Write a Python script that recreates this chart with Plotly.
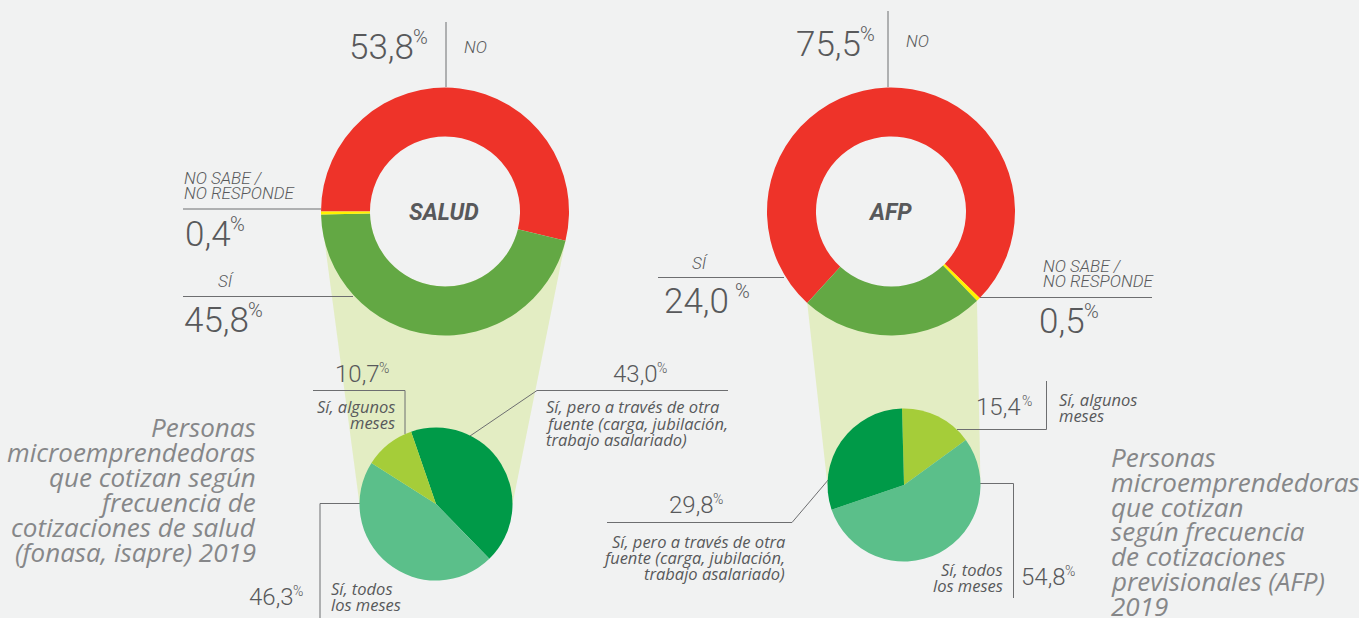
import numpy as np
import plotly.graph_objects as go

# ---------------- data ----------------
donut_labels = ["NO", "SÍ", "NO SABE / NO RESPONDE"]
salud_values = [53.8, 45.8, 0.4]      # NO, SÍ, NS/NR
afp_values = [75.5, 24.0, 0.5]        # NO, SÍ, NS/NR

freq_labels = ["Sí, pero a través de otra fuente (carga, jubilación, trabajo asalariado)",
               "Sí, todos los meses", "Sí, algunos meses"]
salud_freq_values = [43.0, 46.3, 10.7]   # otra fuente, todos, algunos
afp_freq_values = [29.8, 54.8, 15.4]     # otra fuente, todos, algunos

salud_title = ["Personas", "microemprendedoras", "que cotizan según", "frecuencia de",
               "cotizaciones de salud", "(fonasa, isapre) 2019"]
afp_title = ["Personas", "microemprendedoras", "que cotizan", "según frecuencia",
             "de cotizaciones", "previsionales (AFP)", "2019"]

# ---------------- style ----------------
W, H = 1359, 618
BG = "#f1f2f2"
RED, GREEN, YELLOW = "#ee3329", "#63a844", "#fff200"
DARK, MED, LIGHT = "#009a48", "#5bbf8a", "#a5cd39"
TRAP = "#e3edc3"
TXT = "#58595b"
TITLE = "#868789"
LINE = "#6d6e70"
NUMFONT = "Roboto"
LBLFONT = "Open Sans"


def fmt(v):
    return f"{v:.1f}".replace(".", ",")


def dom(cx, cy, r):
    return dict(x=[(cx - r) / W, (cx + r) / W], y=[1 - (cy + r) / H, 1 - (cy - r) / H])


def on_circle(cx, cy, r, ang):
    a = np.deg2rad(ang)
    return cx + r * np.sin(a), cy - r * np.cos(a)


fig = go.Figure()

# big donuts
S_C, A_C, R_BIG, HOLE = (445, 211.5), (891, 211.5), 124, 0.605
s_rot, a_rot = 270, 222.5
fig.add_trace(go.Pie(values=[salud_values[0], salud_values[1], salud_values[2]],
                     labels=donut_labels, sort=False, direction="clockwise", rotation=s_rot,
                     hole=HOLE, marker=dict(colors=[RED, GREEN, YELLOW]),
                     textinfo="none", hoverinfo="label+value", domain=dom(*S_C, R_BIG),
                     showlegend=False))
fig.add_trace(go.Pie(values=[afp_values[0], afp_values[2], afp_values[1]],
                     labels=[donut_labels[0], donut_labels[2], donut_labels[1]], sort=False,
                     direction="clockwise", rotation=a_rot,
                     hole=HOLE, marker=dict(colors=[RED, YELLOW, GREEN]),
                     textinfo="none", hoverinfo="label+value", domain=dom(*A_C, R_BIG),
                     showlegend=False))

# small pies
SP_C, AP_C, R_SM = (436, 504), (904, 485), 76.5
fig.add_trace(go.Pie(values=salud_freq_values, labels=freq_labels, sort=False,
                     direction="clockwise", rotation=-19,
                     marker=dict(colors=[DARK, MED, LIGHT]), textinfo="none",
                     hoverinfo="label+value", domain=dom(*SP_C, R_SM), showlegend=False))
fig.add_trace(go.Pie(values=[afp_freq_values[2], afp_freq_values[1], afp_freq_values[0]],
                     labels=[freq_labels[2], freq_labels[1], freq_labels[0]], sort=False,
                     direction="clockwise", rotation=-1.5,
                     marker=dict(colors=[LIGHT, MED, DARK]), textinfo="none",
                     hoverinfo="label+value", domain=dom(*AP_C, R_SM), showlegend=False))

shapes = []
# connectors (trapezoids) from the SÍ segment to the small pie
s_g0 = s_rot + salud_values[0] * 3.6
s_g1 = s_g0 + salud_values[1] * 3.6
p1 = on_circle(*S_C, R_BIG, s_g1)
p2 = on_circle(*S_C, R_BIG, s_g0)
shapes.append(dict(type="path", layer="below", line=dict(width=0), fillcolor=TRAP,
                   path=f"M{p1[0]},{p1[1]} L{p2[0]},{p2[1]} L{SP_C[0]+R_SM},{SP_C[1]} "
                        f"L{SP_C[0]-R_SM},{SP_C[1]} Z"))
a_g0 = a_rot + (afp_values[0] + afp_values[2]) * 3.6
a_g1 = a_g0 + afp_values[1] * 3.6
q1 = on_circle(*A_C, R_BIG, a_g1)
q2 = on_circle(*A_C, R_BIG, a_g0)
shapes.append(dict(type="path", layer="below", line=dict(width=0), fillcolor=TRAP,
                   path=f"M{q1[0]},{q1[1]} L{q2[0]},{q2[1]} L{AP_C[0]+R_SM},{AP_C[1]} "
                        f"L{AP_C[0]-R_SM},{AP_C[1]} Z"))
# keep donut holes clean
for c in (S_C, A_C):
    rh = R_BIG * HOLE
    shapes.append(dict(type="circle", layer="below", line=dict(width=0), fillcolor=BG,
                       x0=c[0] - rh, x1=c[0] + rh, y0=c[1] - rh, y1=c[1] + rh))

# leader lines
leaders = [
    [(446, 22), (446, 87)],
    [(183, 209), (321, 209)],
    [(183, 296.5), (353, 296.5)],
    [(888, 11), (888, 87)],
    [(658, 277.5), (784, 277.5)],
    [(980, 297.5), (1152, 297.5)],
    [(313, 390.5), (405, 390.5), (405, 434)],
    [(470, 436), (537, 390.5), (728, 390.5)],
    [(360, 503.5), (320, 503.5), (320, 618)],
    [(957, 429.5), (1046.5, 429.5), (1046.5, 381)],
    [(980, 483.5), (1013.5, 483.5), (1013.5, 598)],
    [(607, 522.5), (792, 522.5), (829, 479)],
]
for pts in leaders:
    path = "M" + " L".join(f"{x},{y}" for x, y in pts)
    shapes.append(dict(type="path", layer="below", path=path,
                       line=dict(color=LINE, width=1)))

ann = []


def text(x, y, s, size, color=TXT, family=LBLFONT, anchor="left", style="normal", weight=400):
    ann.append(dict(x=x, y=y, xref="x", yref="y", text=s, showarrow=False,
                    xanchor=anchor, yanchor="middle", borderpad=0,
                    font=dict(size=size, color=color, family=family, style=style, weight=weight)))


def number(x_end, yc, v, big=True, gap=0):
    size = 35 if big else 24
    text(x_end, yc, fmt(v), size, family=NUMFONT, anchor="right", weight=300)
    text(x_end + gap - 3, yc - (10 if big else 6.5), "%", 20 if big else 14,
         family=NUMFONT, anchor="left", weight=300)


# big numbers
number(415, 47, salud_values[0])
number(232, 234, salud_values[2])
number(250, 320, salud_values[1])
number(862, 44, afp_values[0])
number(730, 301, afp_values[1], gap=7)
number(1086, 321, afp_values[2])
# small numbers
number(380.5, 374, salud_freq_values[2], big=False)
number(659, 374, salud_freq_values[0], big=False)
number(295, 597, salud_freq_values[1], big=False)
number(715, 505, afp_freq_values[0], big=False)
number(1022, 407, afp_freq_values[2], big=False, gap=2)
number(1067, 577, afp_freq_values[1], big=False)

# category labels (uppercase)
for x, y, s in [(463, 47, "NO"), (905, 41, "NO"), (217, 281, "SÍ"), (691, 262.5, "SÍ"),
                (183, 177.5, "NO SABE /"), (183, 192.5, "NO RESPONDE"),
                (1042, 266, "NO SABE /"), (1042, 281, "NO RESPONDE")]:
    text(x, y, s, 17, family=NUMFONT, style="italic", weight=300)

# centre titles
text(444, 212, "SALUD", 23, family=NUMFONT, anchor="center", style="italic", weight=700)
text(890, 212, "AFP", 23, family=NUMFONT, anchor="center", style="italic", weight=700)


# small pie labels
def lines(x, ys, strs, anchor):
    for y, s in zip(ys, strs):
        text(x, y, s, 16.5, anchor=anchor, style="italic")


lines(396, [406.5, 422.5], ["Sí, algunos", "meses"], "right")
lines(545, [406.5, 423, 439.5], ["Sí, pero a través de otra", "fuente (carga, jubilación,",
                                  "trabajo asalariado)"], "left")
lines(330, [588, 604], ["Sí, todos", "los meses"], "left")
lines(1058, [399, 415.5], ["Sí, algunos", "meses"], "left")
lines(1004, [569, 585], ["Sí, todos", "los meses"], "right")
lines(786, [541, 557, 573], ["Sí, pero a través de otra", "fuente (carga, jubilación,",
                             "trabajo asalariado)"], "right")

# side titles
for i, s in enumerate(salud_title):
    text(257, 427 + 25 * i, s, 26, color=TITLE, anchor="right", style="italic")
for i, s in enumerate(afp_title):
    text(1110, 457 + 24.8 * i, s, 26, color=TITLE, anchor="left", style="italic")

fig.update_layout(
    width=W, height=H, margin=dict(l=0, r=0, t=0, b=0),
    paper_bgcolor=BG, plot_bgcolor=BG,
    xaxis=dict(range=[0, W], visible=False, fixedrange=True),
    yaxis=dict(range=[H, 0], visible=False, fixedrange=True),
    shapes=shapes, annotations=ann, showlegend=False,
)
fig.write_html("out.html", config={"displayModeBar": False},
               post_script="document.body.style.margin='0';document.body.style.overflow='hidden';")
